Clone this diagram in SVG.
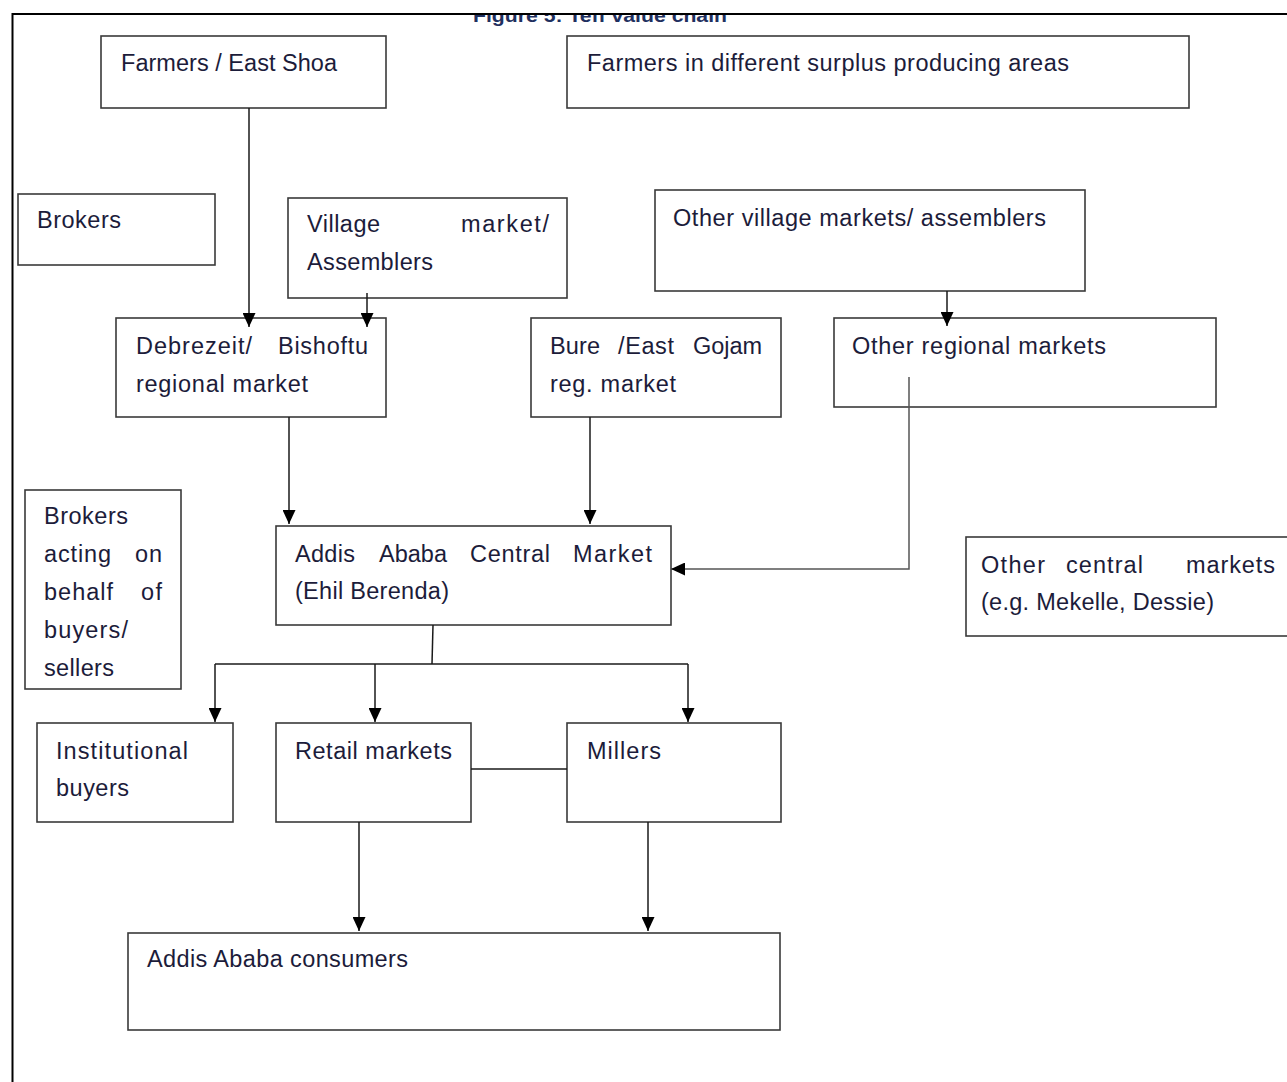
<svg xmlns="http://www.w3.org/2000/svg" width="1287" height="1082" viewBox="0 0 1287 1082">
<style>
.box{fill:#fff;stroke:#3a3a3a;stroke-width:1.6}
.t{font-family:"Liberation Sans",Arial,sans-serif;font-size:23.5px;fill:#1c1c3a}
.c{fill:none;stroke:#1a1a1a;stroke-width:1.5}
.g{fill:none;stroke:#555;stroke-width:1.5}
.ttl{font-family:"Liberation Sans",Arial,sans-serif;font-size:19px;font-weight:bold;fill:#1f3060}
</style>
<defs>
<marker id="ah" viewBox="0 0 14 13" refX="14" refY="6.5" markerWidth="14" markerHeight="13" markerUnits="userSpaceOnUse" orient="auto">
<path d="M0,0 L14,6.5 L0,13 Z" fill="#000"/>
</marker>
<clipPath id="clipTop"><rect x="0" y="15" width="1287" height="1067"/></clipPath>
</defs>
<rect width="1287" height="1082" fill="#fff"/>
<g id="frame">
<path d="M12.5,1082 V14 H1287" fill="none" stroke="#000" stroke-width="2"/>
<text class="ttl" x="473" y="22" textLength="254" lengthAdjust="spacingAndGlyphs" clip-path="url(#clipTop)">Figure 5: Teff value chain</text>
</g>
<g id="farmers-east-shoa">
<rect class="box" x="101" y="36" width="285" height="72"/>
<text class="t" x="121" y="71" textLength="216">Farmers / East Shoa</text>
</g>
<g id="farmers-surplus">
<rect class="box" x="567" y="36" width="622" height="72"/>
<text class="t" x="587" y="71" textLength="482">Farmers in different surplus producing areas</text>
</g>
<g id="brokers">
<rect class="box" x="18" y="194" width="197" height="71"/>
<text class="t" x="37" y="228" textLength="84">Brokers</text>
</g>
<g id="village-market">
<rect class="box" x="288" y="198" width="279" height="100"/>
<text class="t" x="307" y="232" textLength="73">Village</text>
<text class="t" x="461" y="232" textLength="88">market/</text>
<text class="t" x="307" y="270" textLength="126">Assemblers</text>
</g>
<g id="other-village-markets">
<rect class="box" x="655" y="190" width="430" height="101"/>
<text class="t" x="673" y="226" textLength="373">Other village markets/ assemblers</text>
</g>
<g id="debrezeit">
<rect class="box" x="116" y="318" width="270" height="99"/>
<text class="t" x="136" y="354" textLength="116">Debrezeit/</text>
<text class="t" x="278" y="354" textLength="90">Bishoftu</text>
<text class="t" x="136" y="392" textLength="172">regional market</text>
</g>
<g id="bure">
<rect class="box" x="531" y="318" width="250" height="99"/>
<text class="t" x="550" y="354" textLength="50">Bure</text>
<text class="t" x="618" y="354" textLength="56">/East</text>
<text class="t" x="693" y="354" textLength="69">Gojam</text>
<text class="t" x="550" y="392" textLength="126">reg. market</text>
</g>
<g id="other-regional">
<rect class="box" x="834" y="318" width="382" height="89"/>
<text class="t" x="852" y="354" textLength="254">Other regional markets</text>
</g>
<g id="brokers-acting">
<rect class="box" x="25" y="490" width="156" height="199"/>
<text class="t" x="44" y="524" textLength="84">Brokers</text>
<text class="t" x="44" y="562" textLength="67">acting</text>
<text class="t" x="135" y="562" textLength="27">on</text>
<text class="t" x="44" y="600" textLength="69">behalf</text>
<text class="t" x="141" y="600" textLength="21">of</text>
<text class="t" x="44" y="638" textLength="84">buyers/</text>
<text class="t" x="44" y="676" textLength="70">sellers</text>
</g>
<g id="addis-central">
<rect class="box" x="276" y="526" width="395" height="99"/>
<text class="t" x="295" y="562" textLength="60">Addis</text>
<text class="t" x="379" y="562" textLength="68">Ababa</text>
<text class="t" x="470" y="562" textLength="80">Central</text>
<text class="t" x="573" y="562" textLength="79">Market</text>
<text class="t" x="295" y="599" textLength="154">(Ehil Berenda)</text>
</g>
<g id="other-central">
<rect class="box" x="966" y="537" width="330" height="99"/>
<text class="t" x="981" y="573" textLength="64">Other</text>
<text class="t" x="1066" y="573" textLength="77">central</text>
<text class="t" x="1186" y="573" textLength="89">markets</text>
<text class="t" x="981" y="610" textLength="233">(e.g. Mekelle, Dessie)</text>
</g>
<g id="institutional">
<rect class="box" x="37" y="723" width="196" height="99"/>
<text class="t" x="56" y="759" textLength="132">Institutional</text>
<text class="t" x="56" y="796" textLength="73">buyers</text>
</g>
<g id="retail">
<rect class="box" x="276" y="723" width="195" height="99"/>
<text class="t" x="295" y="759" textLength="157">Retail markets</text>
</g>
<g id="millers">
<rect class="box" x="567" y="723" width="214" height="99"/>
<text class="t" x="587" y="759" textLength="74">Millers</text>
</g>
<g id="consumers">
<rect class="box" x="128" y="933" width="652" height="97"/>
<text class="t" x="147" y="967" textLength="261">Addis Ababa consumers</text>
</g>
<g id="connectors">
<path class="c" d="M249,108 V327" marker-end="url(#ah)"/>
<path class="c" d="M367,293 V327" marker-end="url(#ah)"/>
<path class="c" d="M289,417 V524" marker-end="url(#ah)"/>
<path class="c" d="M590,417 V524" marker-end="url(#ah)"/>
<path class="c" d="M947,291 V326" marker-end="url(#ah)"/>
<path class="g" d="M909,377 V569 H671" marker-end="url(#ah)"/>
<path class="c" d="M433,625 L432,664"/>
<path class="c" d="M215,664 H688"/>
<path class="c" d="M215,664 V722" marker-end="url(#ah)"/>
<path class="c" d="M375,664 V722" marker-end="url(#ah)"/>
<path class="c" d="M688,664 V722" marker-end="url(#ah)"/>
<path class="c" d="M471,769 H567"/>
<path class="c" d="M359,822 V931" marker-end="url(#ah)"/>
<path class="c" d="M648,822 V931" marker-end="url(#ah)"/>
</g>
</svg>
